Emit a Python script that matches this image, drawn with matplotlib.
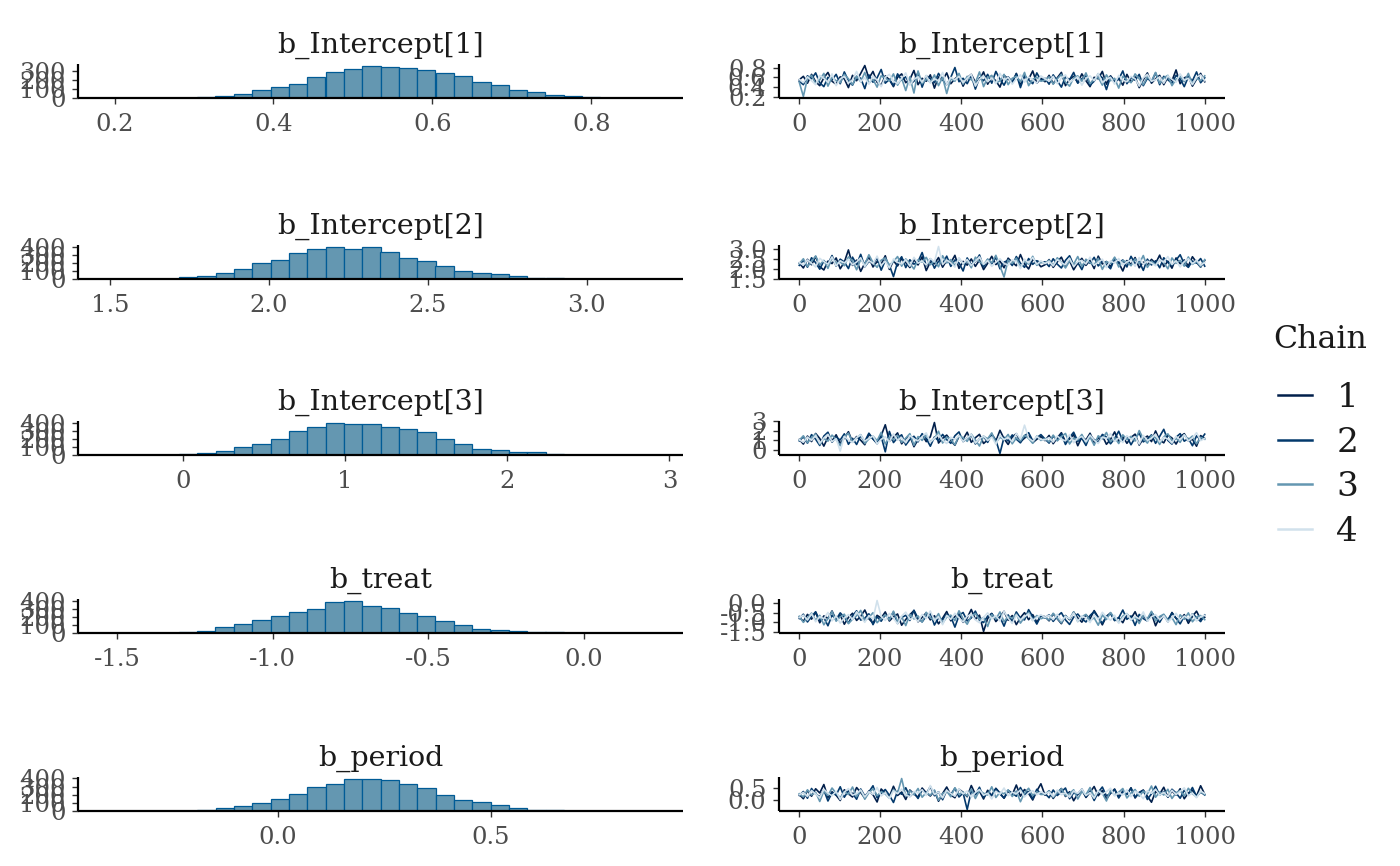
import numpy as np
import matplotlib
matplotlib.use("Agg")
import matplotlib.pyplot as plt
from matplotlib.lines import Line2D

# ---------------- data ----------------
params = ["b_Intercept[1]", "b_Intercept[2]", "b_Intercept[3]", "b_treat", "b_period"]

# histogram bins (30 bins per parameter)
hist_bin_start = [0.1886, 1.4856, -0.479, -1.537, -0.4058]
hist_bin_width = [0.02307, 0.0577, 0.1131, 0.0589, 0.04312]

counts_b_intercept1 = [0, 0, 0, 0, 1, 11, 27, 49, 93, 120, 158, 240, 294, 322, 365,
                       349, 338, 316, 278, 249, 178, 145, 89, 63, 33, 19, 9, 3, 1, 1]
counts_b_intercept2 = [0, 1, 2, 5, 30, 35, 70, 120, 195, 230, 325, 372, 400, 376, 392,
                       335, 265, 220, 165, 105, 78, 57, 37, 15, 8, 4, 3, 2, 1, 1]
counts_b_intercept3 = [0, 2, 2, 6, 18, 30, 48, 100, 138, 200, 292, 343, 400, 385, 388,
                       347, 326, 288, 196, 134, 71, 58, 33, 37, 17, 6, 4, 3, 2, 1]
counts_b_treat = [1, 2, 4, 5, 12, 30, 80, 110, 160, 210, 265, 300, 388, 410, 345,
                  315, 255, 220, 146, 103, 56, 35, 20, 10, 7, 4, 2, 1, 1, 1]
counts_b_period = [0, 0, 1, 1, 2, 15, 33, 62, 103, 152, 213, 295, 336, 398, 398,
                   385, 328, 279, 193, 131, 107, 70, 37, 16, 8, 4, 2, 1, 1, 1]
hist_counts = [counts_b_intercept1, counts_b_intercept2, counts_b_intercept3,
               counts_b_treat, counts_b_period]

hist_xticks = [[0.2, 0.4, 0.6, 0.8], [1.5, 2.0, 2.5, 3.0], [0, 1, 2, 3],
               [-1.5, -1.0, -0.5, 0.0], [0.0, 0.5]]
hist_xticklabels = [["0.2", "0.4", "0.6", "0.8"], ["1.5", "2.0", "2.5", "3.0"],
                    ["0", "1", "2", "3"], ["-1.5", "-1.0", "-0.5", "0.0"], ["0.0", "0.5"]]
hist_yticks = [[0, 100, 200, 300], [0, 100, 200, 300, 400], [0, 100, 200, 300, 400],
               [0, 100, 200, 300, 400], [0, 100, 200, 300, 400]]

trace_xticks = [0, 200, 400, 600, 800, 1000]
trace_yticks = [[0.2, 0.4, 0.6, 0.8], [1.5, 2.0, 2.5, 3.0], [0, 1, 2, 3],
                [-1.5, -1.0, -0.5, 0.0], [0.0, 0.5]]
trace_yticklabels = [["0.2", "0.4", "0.6", "0.8"], ["1.5", "2.0", "2.5", "3.0"],
                     ["0", "1", "2", "3"], ["-1.5", "-1.0", "-0.5", "0.0"], ["0.0", "0.5"]]

chains = ["1", "2", "3", "4"]
n_iter = 1000

# thinned trace values (100 per chain), per parameter
trace_b_intercept1 = [
    [0.55, 0.62, 0.48, 0.66, 0.51, 0.43, 0.59, 0.70, 0.52, 0.46, 0.61, 0.57, 0.39, 0.64, 0.53, 0.68, 0.84, 0.58, 0.72, 0.50,
     0.44, 0.63, 0.55, 0.41, 0.60, 0.67, 0.49, 0.56, 0.74, 0.45, 0.58, 0.52, 0.65, 0.38, 0.61, 0.54, 0.69, 0.47, 0.57, 0.63,
     0.42, 0.59, 0.66, 0.50, 0.55, 0.71, 0.46, 0.60, 0.53, 0.40, 0.64, 0.57, 0.49, 0.68, 0.44, 0.62, 0.56, 0.73, 0.48, 0.58,
     0.51, 0.64, 0.47, 0.59, 0.70, 0.43, 0.56, 0.62, 0.49, 0.67, 0.53, 0.41, 0.60, 0.57, 0.72, 0.46, 0.63, 0.52, 0.58, 0.44,
     0.66, 0.50, 0.61, 0.39, 0.55, 0.69, 0.48, 0.57, 0.64, 0.45, 0.60, 0.53, 0.75, 0.47, 0.59, 0.62, 0.42, 0.56, 0.68, 0.51],
    [0.52, 0.45, 0.63, 0.57, 0.69, 0.49, 0.41, 0.60, 0.55, 0.66, 0.47, 0.71, 0.53, 0.44, 0.62, 0.58, 0.37, 0.65, 0.50, 0.59,
     0.76, 0.48, 0.56, 0.43, 0.67, 0.54, 0.61, 0.46, 0.52, 0.70, 0.40, 0.63, 0.57, 0.49, 0.68, 0.55, 0.45, 0.60, 0.80, 0.51,
     0.58, 0.47, 0.64, 0.36, 0.59, 0.53, 0.66, 0.48, 0.72, 0.56, 0.44, 0.61, 0.50, 0.67, 0.39, 0.63, 0.55, 0.47, 0.69, 0.54,
     0.58, 0.46, 0.65, 0.53, 0.40, 0.61, 0.55, 0.70, 0.48, 0.57, 0.63, 0.44, 0.52, 0.67, 0.59, 0.35, 0.62, 0.50, 0.56, 0.73,
     0.47, 0.60, 0.54, 0.66, 0.43, 0.58, 0.51, 0.69, 0.45, 0.62, 0.55, 0.48, 0.64, 0.57, 0.41, 0.61, 0.53, 0.71, 0.49, 0.59],
    [0.50, 0.21, 0.58, 0.64, 0.47, 0.55, 0.68, 0.42, 0.60, 0.53, 0.49, 0.66, 0.57, 0.45, 0.62, 0.51, 0.70, 0.48, 0.56, 0.40,
     0.63, 0.59, 0.52, 0.67, 0.44, 0.58, 0.33, 0.61, 0.28, 0.73, 0.47, 0.56, 0.50, 0.65, 0.43, 0.60, 0.27, 0.57, 0.52, 0.68,
     0.46, 0.62, 0.55, 0.49, 0.71, 0.41, 0.59, 0.64, 0.48, 0.53, 0.66, 0.45, 0.58, 0.62, 0.51, 0.70, 0.43, 0.56, 0.60, 0.52,
     0.54, 0.61, 0.46, 0.57, 0.66, 0.50, 0.42, 0.59, 0.63, 0.52, 0.69, 0.47, 0.56, 0.60, 0.44, 0.65, 0.53, 0.58, 0.38, 0.62,
     0.55, 0.49, 0.67, 0.57, 0.45, 0.61, 0.52, 0.70, 0.48, 0.59, 0.64, 0.43, 0.56, 0.62, 0.51, 0.68, 0.46, 0.58, 0.53, 0.63],
    [0.56, 0.49, 0.61, 0.53, 0.45, 0.64, 0.58, 0.50, 0.67, 0.43, 0.57, 0.62, 0.48, 0.55, 0.72, 0.51, 0.59, 0.46, 0.63, 0.54,
     0.41, 0.60, 0.66, 0.52, 0.47, 0.58, 0.69, 0.44, 0.56, 0.61, 0.50, 0.64, 0.48, 0.57, 0.53, 0.70, 0.45, 0.60, 0.55, 0.62,
     0.49, 0.58, 0.66, 0.42, 0.56, 0.63, 0.51, 0.59, 0.47, 0.68, 0.54, 0.60, 0.46, 0.57, 0.65, 0.50, 0.61, 0.55, 0.48, 0.63,
     0.57, 0.52, 0.62, 0.47, 0.59, 0.65, 0.50, 0.55, 0.61, 0.44, 0.58, 0.63, 0.53, 0.68, 0.49, 0.56, 0.60, 0.46, 0.64, 0.54,
     0.51, 0.62, 0.57, 0.42, 0.59, 0.66, 0.52, 0.55, 0.61, 0.48, 0.63, 0.56, 0.50, 0.67, 0.54, 0.58, 0.45, 0.60, 0.65, 0.53],
]
trace_b_intercept2 = [
    [2.30, 2.05, 2.48, 2.21, 2.62, 2.12, 1.95, 2.39, 2.27, 2.55, 2.01, 2.34, 2.95, 2.18, 2.44, 1.88, 2.29, 2.58, 2.10, 2.37,
     2.24, 2.66, 1.98, 2.41, 2.15, 2.52, 2.32, 2.07, 2.46, 2.20, 2.61, 1.92, 2.35, 2.26, 2.57, 2.09, 2.43, 2.31, 2.68, 2.03,
     2.38, 2.19, 2.50, 2.13, 2.45, 1.97, 2.28, 2.63, 2.22, 2.40, 2.06, 2.54, 2.33, 2.16, 2.72, 2.25, 2.00, 2.47, 2.36, 2.11,
     2.21, 2.47, 2.08, 2.35, 2.59, 2.14, 2.40, 1.96, 2.29, 2.53, 2.18, 2.44, 2.02, 2.64, 2.25, 2.37, 2.11, 2.50, 2.31, 1.90,
     2.42, 2.23, 2.57, 2.06, 2.34, 2.19, 2.48, 2.28, 2.69, 2.12, 2.39, 2.04, 2.55, 2.26, 2.45, 2.15, 2.61, 2.33, 2.09, 2.43],
    [2.18, 2.44, 2.09, 2.56, 2.31, 1.99, 2.40, 2.25, 2.67, 2.14, 2.49, 2.35, 2.02, 2.59, 2.22, 2.73, 2.11, 2.38, 2.28, 2.53,
     1.94, 2.42, 2.19, 1.62, 2.33, 2.61, 2.07, 2.46, 2.24, 2.37, 2.82, 2.16, 2.51, 2.04, 2.39, 2.27, 2.64, 2.13, 2.45, 2.30,
     1.90, 2.55, 2.21, 2.36, 2.70, 2.10, 2.48, 2.26, 2.58, 2.01, 2.34, 2.43, 2.17, 2.62, 2.29, 2.08, 2.52, 2.23, 2.41, 2.32,
     2.36, 2.12, 2.51, 2.24, 2.05, 2.43, 2.66, 2.19, 2.32, 1.97, 2.47, 2.28, 2.58, 2.15, 2.39, 2.22, 2.01, 2.54, 2.30, 2.45,
     2.10, 2.63, 2.27, 2.37, 1.93, 2.49, 2.20, 2.41, 2.06, 2.56, 2.33, 2.17, 2.44, 2.71, 2.25, 2.08, 2.40, 2.29, 2.52, 2.14],
    [2.26, 2.51, 2.12, 2.38, 2.65, 2.20, 2.43, 2.03, 2.57, 2.29, 2.35, 2.16, 2.60, 2.41, 1.96, 2.48, 2.23, 2.71, 2.32, 2.08,
     2.44, 2.55, 2.19, 2.37, 2.62, 2.14, 2.50, 2.27, 2.00, 2.46, 2.34, 2.58, 2.21, 2.40, 2.11, 2.66, 2.30, 2.47, 2.17, 2.53,
     2.25, 2.42, 2.06, 2.59, 2.36, 2.22, 2.49, 2.31, 2.68, 2.15, 1.60, 2.45, 2.28, 2.54, 2.10, 2.39, 2.24, 2.63, 2.18, 2.35,
     2.29, 2.44, 2.17, 2.56, 2.33, 2.05, 2.40, 2.24, 2.62, 2.13, 2.48, 2.31, 2.20, 2.53, 1.98, 2.37, 2.27, 2.59, 2.10, 2.42,
     2.35, 2.16, 2.50, 2.26, 2.67, 2.08, 2.39, 2.21, 2.46, 2.32, 2.01, 2.55, 2.28, 2.43, 2.14, 2.60, 2.23, 2.38, 2.11, 2.47],
    [2.32, 2.19, 2.45, 2.28, 2.10, 2.53, 2.37, 2.24, 2.60, 2.15, 2.41, 2.30, 2.48, 2.21, 2.35, 2.56, 2.12, 2.43, 2.27, 2.64,
     2.18, 2.39, 2.05, 2.50, 2.33, 2.25, 2.46, 2.14, 2.58, 2.29, 2.40, 2.20, 2.52, 2.36, 3.12, 2.22, 2.44, 2.31, 2.09, 2.55,
     2.26, 2.47, 2.17, 2.38, 2.61, 2.23, 2.42, 2.13, 2.34, 2.51, 2.28, 2.19, 2.45, 2.37, 2.02, 2.49, 2.30, 2.57, 2.24, 2.41,
     2.27, 2.38, 2.15, 2.47, 2.31, 2.21, 2.54, 2.12, 2.36, 2.43, 2.25, 2.59, 2.18, 2.33, 2.49, 2.07, 2.40, 2.29, 2.52, 2.20,
     2.35, 2.45, 2.13, 2.57, 2.24, 2.39, 2.30, 2.16, 2.48, 2.34, 2.62, 2.22, 2.41, 2.10, 2.37, 2.51, 2.26, 2.44, 2.19, 2.32],
]
trace_b_intercept3 = [
    [1.10, 0.62, 1.45, 0.88, 1.72, 1.20, 0.41, 1.33, 0.95, 1.58, 0.70, 1.25, 1.90, 0.83, 1.40, 1.02, 0.55, 1.66, 1.15, 0.78,
     1.50, 2.62, 0.92, 1.30, 1.78, 0.65, 1.18, 1.48, 0.35, 1.08, 1.60, 0.87, 1.38, 2.85, 0.73, 1.22, 1.55, 0.98, 0.50, 1.42,
     1.13, 1.85, 0.80, 1.28, 1.63, 0.68, 1.05, 1.46, 0.90, 2.05, 1.17, 0.58, 1.35, 1.70, 0.85, 1.24, 1.52, 0.76, 1.12, 1.40,
     0.98, 1.52, 0.66, 1.27, 1.80, 0.85, 1.15, 1.60, 0.45, 1.35, 1.05, 1.74, 0.78, 1.22, 1.48, 0.60, 1.10, 1.88, 0.92, 1.40,
     0.70, 1.30, 1.65, 0.52, 1.18, 1.45, 0.88, 1.98, 1.02, 0.75, 1.55, 1.25, 0.62, 1.38, 1.70, 0.95, 1.12, 0.40, 1.50, 1.20],
    [0.95, 1.38, 0.72, 1.60, 1.12, 0.48, 1.45, 1.85, 0.82, 1.30, 1.05, 1.68, 0.60, 1.22, 0.58, 1.50, 0.90, 1.75, 1.15, 0.66,
     1.40, -0.18, 1.93, 0.78, 1.27, 1.58, 0.52, 1.10, 1.43, 0.85, 1.70, 1.20, 0.40, 1.35, 0.97, 1.62, 1.08, 0.70, 1.48, 1.88,
     0.88, 1.25, 1.55, 0.63, 1.18, 1.42, 0.80, 1.65, 1.03, -0.35, 1.32, 0.93, 1.57, 1.13, 0.75, 1.47, 1.80, 0.98, 1.28, 1.60,
     1.15, 0.72, 1.45, 1.02, 1.68, 0.58, 1.30, 1.85, 0.90, 1.22, 0.48, 1.52, 1.08, 0.80, 1.62, 1.35, 0.65, 1.18, 1.95, 0.97,
     1.40, 0.55, 1.28, 1.75, 0.85, 1.12, 1.58, 0.70, 1.42, 2.15, 1.00, 0.62, 1.33, 1.70, 0.92, 1.20, 0.45, 1.48, 1.05, 1.65],
    [1.02, 1.48, 0.75, 1.30, 1.67, 0.58, 1.20, 0.92, 1.55, 1.10, 0.45, 1.38, 1.75, 0.83, 1.26, 1.60, 0.68, 1.15, 1.45, 0.97,
     1.83, 0.62, 1.33, 1.07, 1.52, 0.80, 1.23, 1.70, 0.50, 1.40, 1.00, 1.58, 0.87, 1.18, 1.95, 0.73, 1.35, 1.12, 0.55, 1.50,
     1.28, 0.90, 1.65, 1.05, 0.42, 1.43, 1.17, 1.78, 0.77, 1.32, 1.08, 1.62, 0.65, 1.25, 0.95, 1.53, 1.20, 0.70, 1.45, 1.00,
     1.20, 0.85, 1.55, 0.95, 1.40, 1.72, 0.63, 1.25, 1.05, 1.62, 0.78, 1.35, 0.50, 1.48, 1.15, 1.82, 0.88, 1.30, 0.68, 1.58,
     1.10, 1.42, 0.93, 2.02, 1.18, 0.72, 1.50, 1.28, 0.58, 1.38, 1.68, 0.98, 1.22, 0.80, 1.60, 1.08, 1.45, 0.65, 1.32, 1.12],
    [1.08, 0.80, 1.35, 1.00, 1.52, 0.70, 1.25, 1.62, 0.88, 1.18, -0.10, 1.42, 1.05, 0.78, 1.30, 1.57, 0.93, 1.20, 1.47, 0.65,
     1.12, 1.38, 0.85, 1.68, 1.02, 1.28, 0.75, 1.50, 1.15, 0.95, 1.40, 1.78, 0.82, 1.22, 1.58, 1.03, 0.68, 1.33, 1.10, 1.48,
     0.90, 1.27, 1.63, 0.72, 1.17, 1.45, 0.98, 1.36, 0.60, 1.55, 1.07, 1.30, 0.87, 1.73, 1.14, 2.58, 1.25, 0.92, 1.40, 1.10,
     1.05, 1.30, 0.82, 1.45, 1.12, 0.95, 1.60, 0.75, 1.25, 1.40, 0.88, 1.55, 1.02, 0.68, 1.35, 1.18, 1.70, 0.90, 1.28, 0.78,
     1.48, 1.10, 1.38, 0.62, 1.52, 1.00, 1.22, 1.65, 0.85, 1.32, 1.15, 0.72, 1.42, 1.07, 1.58, 0.93, 1.26, 1.80, 0.98, 1.20],
]
trace_b_treat = [
    [-0.72, -0.95, -0.58, -0.83, -0.47, -1.02, -0.66, -0.79, -0.40, -0.88, -0.61, -1.10, -0.74, -0.52, -0.90, -0.68, -0.35, -0.81, -1.05, -0.63,
     -0.77, -0.45, -0.93, -0.70, -0.56, -1.15, -0.85, -0.60, -0.38, -0.97, -0.73, -0.50, -0.87, -0.65, -1.08, -0.78, -0.43, -0.92, -0.69, -0.55,
     -1.00, -0.76, -0.32, -0.84, -0.62, -1.48, -0.80, -0.53, -0.96, -0.71, -0.42, -0.89, -0.64, -1.12, -0.75, -0.49, -0.86, -0.59, -0.99, -0.67,
     -0.70, -0.92, -0.55, -0.81, -1.07, -0.64, -0.86, -0.46, -0.77, -0.99, -0.60, -0.83, -0.38, -0.73, -1.13, -0.68, -0.51, -0.89, -0.75, -1.02,
     -0.57, -0.80, -0.44, -0.94, -0.66, -0.85, -0.53, -1.18, -0.72, -0.62, -0.97, -0.48, -0.79, -0.88, -0.59, -1.05, -0.69, -0.41, -0.84, -0.74],
    [-0.80, -0.57, -0.98, -0.69, -0.44, -0.91, -0.75, -1.18, -0.62, -0.85, -0.50, -0.73, -1.03, -0.66, -0.39, -0.88, -0.78, -0.55, -1.12, -0.71,
     -0.94, -0.60, -0.82, -0.46, -1.06, -0.74, -0.63, -0.90, -0.36, -0.79, -0.97, -0.68, -0.52, -1.14, -0.76, -0.86, -0.58, -0.70, -1.25, -0.64,
     -0.48, -0.93, -0.77, -0.41, -0.89, -1.01, -0.67, -0.54, -0.84, -0.72, -1.20, -0.61, -0.95, -0.45, -0.78, -0.87, -0.33, -0.70, -1.09, -0.65,
     -0.77, -0.60, -0.95, -0.68, -0.49, -0.87, -1.11, -0.72, -0.56, -0.82, -0.98, -0.64, -0.43, -0.79, -1.04, -0.70, -0.53, -0.91, -0.76, -0.35,
     -0.84, -0.66, -1.16, -0.58, -0.80, -0.93, -0.47, -0.73, -1.00, -0.62, -0.86, -0.51, -0.78, -1.08, -0.67, -0.89, -0.55, -0.74, -0.96, -0.61],
    [-0.68, -1.00, -0.76, -0.51, -0.89, -0.63, -1.13, -0.80, -0.43, -0.94, -0.71, -0.57, -1.07, -0.84, -0.65, -0.37, -0.92, -0.74, -0.49, -1.02,
     -0.79, -0.60, -0.87, -0.41, -0.96, -0.70, -1.17, -0.58, -0.82, -0.66, -0.99, -0.47, -0.76, -0.88, -0.54, -1.05, -0.72, -0.62, -0.91, -0.39,
     -0.81, -1.10, -0.67, -0.53, -0.86, -0.74, -1.22, -0.59, -0.83, -0.45, -0.97, -0.69, -0.78, -0.56, -1.04, -0.73, -0.48, -0.90, -0.64, -0.81,
     -0.73, -0.88, -0.52, -0.79, -1.03, -0.65, -0.83, -0.45, -0.96, -0.70, -0.58, -0.91, -0.76, -1.15, -0.61, -0.85, -0.48, -0.78, -0.99, -0.67,
     -0.54, -0.87, -0.72, -1.06, -0.63, -0.81, -0.42, -0.93, -0.69, -0.57, -0.89, -0.75, -1.12, -0.60, -0.84, -0.50, -0.97, -0.71, -0.64, -0.86],
    [-0.75, -0.62, -0.88, -0.55, -0.97, -0.70, -0.81, -0.48, -0.92, -0.66, -1.04, -0.77, -0.59, -0.86, -0.44, -0.73, -1.00, -0.64, -0.83, 0.15,
     -0.69, -0.90, -0.53, -0.79, -1.08, -0.67, -0.46, -0.85, -0.72, -0.95, -0.58, -0.80, -0.40, -0.89, -0.71, -1.12, -0.63, -0.84, -0.52, -0.76,
     -0.98, -0.68, -0.57, -0.87, -1.02, -0.74, -0.50, -0.82, -0.65, -0.93, -0.42, -0.78, -1.06, -0.61, -0.86, -0.70, -0.55, -0.91, -0.73, -0.60,
     -0.74, -0.63, -0.86, -0.57, -0.92, -0.69, -0.80, -0.51, -0.95, -0.66, -0.78, -1.01, -0.60, -0.84, -0.47, -0.72, -0.89, -0.62, -1.05, -0.76,
     -0.54, -0.87, -0.68, -0.82, -0.45, -0.94, -0.71, -0.59, -0.85, -0.65, -0.99, -0.77, -0.52, -0.90, -0.67, -0.81, -0.56, -0.93, -0.70, -0.63],
]
trace_b_period = [
    [0.22, 0.05, 0.38, 0.15, 0.45, 0.28, 0.62, 0.10, 0.33, 0.19, -0.02, 0.41, 0.25, 0.12, 0.50, 0.30, 0.08, 0.36, 0.21, -0.08,
     0.44, 0.27, 0.14, 0.55, 0.18, 0.32, 0.02, 0.40, 0.24, 0.11, 0.48, 0.29, 0.16, 0.37, -0.05, 0.26, 0.52, 0.20, 0.09, 0.43,
     0.31, 0.13, 0.58, 0.23, 0.35, 0.04, 0.39, 0.17, 0.47, 0.28, 0.07, 0.34, 0.21, 0.60, 0.15, 0.42, 0.26, 0.00, 0.36, 0.65,
     0.19, 0.37, 0.06, 0.29, 0.46, 0.14, 0.33, -0.03, 0.25, 0.41, 0.10, 0.31, 0.54, 0.17, 0.38, 0.03, 0.27, 0.44, 0.12, 0.35,
     0.22, 0.49, 0.08, 0.30, 0.40, 0.15, -0.09, 0.34, 0.24, 0.51, 0.11, 0.36, 0.20, 0.45, 0.05, 0.28, 0.39, 0.16, 0.57, 0.23],
    [0.18, 0.34, 0.07, 0.46, 0.24, 0.13, 0.40, -0.04, 0.29, 0.20, 0.53, 0.11, 0.37, 0.26, 0.03, 0.44, 0.16, 0.32, 0.57, 0.09,
     0.27, 0.42, 0.19, -0.10, 0.35, 0.23, 0.49, 0.14, 0.30, 0.06, 0.41, 0.25, 0.54, 0.17, 0.33, 0.01, 0.38, 0.22, 0.47, 0.12,
     0.28, -0.38, 0.36, 0.21, 0.51, 0.10, 0.31, 0.19, 0.45, 0.24, 0.08, 0.39, 0.27, 0.15, 0.50, 0.20, 0.34, 0.05, 0.43, 0.23,
     0.26, 0.09, 0.40, 0.18, 0.33, 0.48, 0.05, 0.29, 0.21, 0.44, 0.13, 0.36, -0.02, 0.31, 0.52, 0.16, 0.27, 0.42, 0.08, 0.35,
     0.23, 0.47, 0.11, 0.30, 0.38, 0.02, 0.25, 0.55, 0.19, 0.34, 0.12, 0.43, 0.28, 0.07, 0.39, 0.22, 0.50, 0.14, 0.32, 0.20],
    [0.25, 0.12, 0.41, 0.20, 0.31, -0.06, 0.36, 0.18, 0.48, 0.27, 0.09, 0.34, 0.22, 0.52, 0.14, 0.39, 0.03, 0.29, 0.45, 0.17,
     0.33, 0.24, 0.07, 0.42, 0.28, 0.86, 0.15, 0.37, 0.21, 0.46, 0.11, 0.30, 0.19, 0.40, -0.01, 0.26, 0.35, 0.13, 0.49, 0.23,
     0.32, 0.16, 0.44, 0.06, 0.38, 0.27, 0.20, 0.53, 0.10, 0.31, 0.25, 0.40, 0.14, 0.36, -0.07, 0.29, 0.47, 0.18, 0.33, 0.22,
     0.23, 0.37, 0.10, 0.30, 0.45, 0.17, 0.26, 0.41, 0.04, 0.33, 0.21, 0.50, 0.13, 0.36, 0.27, -0.04, 0.39, 0.19, 0.31, 0.46,
     0.08, 0.28, 0.42, 0.15, 0.35, 0.24, 0.56, 0.11, 0.32, 0.20, 0.43, 0.06, 0.29, 0.38, 0.16, 0.47, 0.25, 0.12, 0.34, 0.22],
    [0.21, 0.30, 0.14, 0.38, 0.24, 0.09, 0.43, 0.27, 0.17, 0.35, 0.02, 0.31, 0.46, 0.19, 0.26, 0.40, 0.12, 0.33, 0.23, 0.50,
     0.16, 0.29, 0.06, 0.37, 0.25, 0.44, 0.20, 0.13, 0.34, 0.28, 0.41, 0.18, 0.58, 0.22, 0.32, 0.08, 0.39, 0.26, 0.15, 0.45,
     0.24, 0.36, 0.11, 0.30, 0.42, 0.19, 0.27, 0.04, 0.35, 0.23, 0.48, 0.17, 0.31, 0.25, 0.40, 0.12, 0.29, 0.37, 0.21, 0.33,
     0.24, 0.32, 0.15, 0.40, 0.21, 0.28, 0.11, 0.36, 0.26, 0.44, 0.18, 0.30, 0.07, 0.38, 0.23, 0.33, 0.47, 0.16, 0.29, 0.20,
     0.41, 0.13, 0.35, 0.25, 0.05, 0.37, 0.27, 0.43, 0.19, 0.31, 0.14, 0.39, 0.22, 0.34, 0.49, 0.17, 0.28, 0.09, 0.36, 0.26],
]
traces = [trace_b_intercept1, trace_b_intercept2, trace_b_intercept3, trace_b_treat, trace_b_period]

# ---------------- style ----------------
chain_colors = ["#011f4b", "#03396c", "#6497b1", "#d1e1ec"]
hist_fill = "#6497b1"
hist_edge = "#005b96"
tick_label_color = "#4d4d4d"
plt.rcParams["font.family"] = ["DejaVu Serif", "DejaVu Sans"]

TICK_FS = 17.5
STRIP_FS = 20.5
LEG_TITLE_FS = 22.8
LEG_TEXT_FS = 24.7

FW, FH = 1400, 866
fig = plt.figure(figsize=(FW / 100, FH / 100), dpi=100)
fig.patch.set_facecolor("white")

left_x0, left_x1 = 78, 683
right_x0, right_x1 = 779, 1225
panel_bottoms = [98, 279, 455, 633, 811]
panel_h = 34


def add_ax(x0, x1, bottom):
    return fig.add_axes([x0 / FW, 1 - bottom / FH, (x1 - x0) / FW, panel_h / FH])


def style_ax(ax):
    for s in ["top", "right"]:
        ax.spines[s].set_visible(False)
    for s in ["left", "bottom"]:
        ax.spines[s].set_linewidth(1.6)
        ax.spines[s].set_color("black")
        ax.spines[s].set_capstyle("butt")
    ax.tick_params(axis="both", which="major", length=4, width=1.0, color="#333333",
                   labelsize=TICK_FS, labelcolor=tick_label_color)
    ax.tick_params(axis="x", pad=7)
    ax.tick_params(axis="y", pad=5)
    ax.set_facecolor("none")


def add_title(ax, text):
    ax.annotate(text, xy=(0.5, 1.0), xycoords="axes fraction", xytext=(0, 13.5),
                textcoords="offset points", ha="center", va="center",
                fontsize=STRIP_FS, color="#1a1a1a", annotation_clip=False)


for i, name in enumerate(params):
    # histogram
    ax = add_ax(left_x0, left_x1, panel_bottoms[i])
    bw = hist_bin_width[i]
    edges = hist_bin_start[i] + bw * np.arange(len(hist_counts[i]) + 1)
    ax.hist(edges[:-1] + bw / 2, bins=edges, weights=hist_counts[i],
            facecolor=hist_fill, edgecolor=hist_edge, linewidth=0.9)
    span = edges[-1] - edges[0]
    ax.set_xlim(edges[0] - 0.05 * span, edges[-1] + 0.05 * span)
    ax.set_ylim(0, max(hist_counts[i]) * 1.05)
    ax.set_xticks(hist_xticks[i])
    ax.set_xticklabels(hist_xticklabels[i])
    ax.set_yticks(hist_yticks[i])
    ax.set_yticklabels([str(v) for v in hist_yticks[i]])
    style_ax(ax)
    add_title(ax, name)

    # trace
    ax = add_ax(right_x0, right_x1, panel_bottoms[i])
    allv = []
    for c, vals in enumerate(traces[i]):
        it = np.linspace(1, n_iter, len(vals))
        ax.plot(it, vals, color=chain_colors[c], linewidth=1.2)
        allv.extend(vals)
    lo, hi = min(allv), max(allv)
    r = hi - lo
    ax.set_ylim(lo - 0.05 * r, hi + 0.05 * r)
    ax.set_xlim(1 - 0.05 * (n_iter - 1), n_iter + 0.05 * (n_iter - 1))
    ax.set_xticks(trace_xticks)
    ax.set_xticklabels([str(v) for v in trace_xticks])
    ax.set_yticks(trace_yticks[i])
    ax.set_yticklabels(trace_yticklabels[i])
    style_ax(ax)
    add_title(ax, name)

# legend: title drawn as text, entries via legend
fig.text(1273 / FW, 1 - 339 / FH, "Chain", ha="left", va="center",
         fontsize=LEG_TITLE_FS, color="#1a1a1a")
handles = [Line2D([0], [0], color=col, linewidth=1.8) for col in chain_colors]
leg = fig.legend(handles, chains, loc="center left",
                 bbox_to_anchor=(1278 / FW, 1 - 465 / FH), frameon=False,
                 fontsize=LEG_TEXT_FS, handlelength=1.0,
                 handletextpad=0.7, labelspacing=0.36,
                 borderpad=0.0, borderaxespad=0.0)
for t in leg.get_texts():
    t.set_color("#1a1a1a")

fig.savefig("out.png", dpi=100, facecolor="white")
